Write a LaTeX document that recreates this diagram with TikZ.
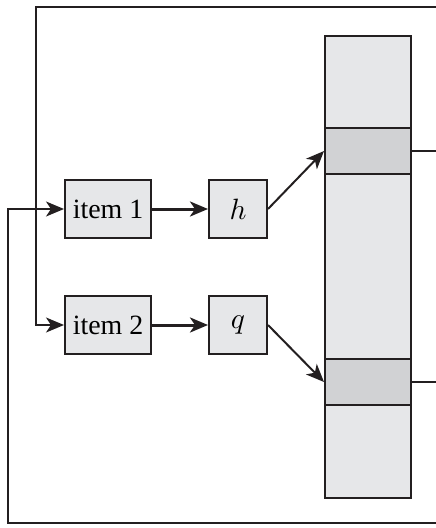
\documentclass[tikz,border=0pt]{standalone}
\usepackage{graphicx}
\usepackage{fontspec}
\setmainfont{Liberation Serif}
\usetikzlibrary{arrows.meta}
\definecolor{ink}{HTML}{231F20}
\definecolor{boxfill}{HTML}{E6E7E9}
\definecolor{slotfill}{HTML}{D1D2D4}
\newcommand{\bigmath}[1]{{\fontsize{10}{12}\selectfont\scalebox{2.95}{$#1$}}}
\tikzset{
  boxnode/.style={draw=ink, line width=2bp, fill=boxfill, inner sep=0pt, font=\fontsize{28}{32}\selectfont},
  slotnode/.style={draw=ink, line width=2bp, fill=slotfill, inner sep=0pt},
  frameline/.style={draw=ink, line width=2bp},
  tip/.style={-{Stealth[length=18bp,width=15bp,inset=5bp]}},
  thickarrow/.style={draw=ink, line width=3bp, tip},
  thinarrow/.style={draw=ink, line width=2bp, tip},
}
\begin{document}
\begin{tikzpicture}[x=1bp,y=-1bp]
\useasboundingbox (0,0) rectangle (436,528);
% table
\node[boxnode, minimum width=86bp, minimum height=462bp] (table) at (368,267) {};
\node[slotnode, minimum width=86bp, minimum height=46bp] (slot1) at (368,151) {};
\node[slotnode, minimum width=86bp, minimum height=46bp] (slot2) at (368,382) {};
% items
\node[boxnode, minimum width=86bp, minimum height=58bp] (item1) at (108,209) {item 1};
\node[boxnode, minimum width=86bp, minimum height=58bp] (item2) at (108,325) {item 2};
\node[boxnode, minimum width=58bp, minimum height=58bp] (h) at (238,209) {\bigmath{h}};
\node[boxnode, minimum width=58bp, minimum height=58bp] (q) at (238,325) {\bigmath{q}};
% coordinates
\coordinate (r1) at (436,151);
\coordinate (r2) at (436,382);
\coordinate (tr) at (436,7);
\coordinate (tl) at (36,7);
\coordinate (br) at (436,523);
\coordinate (bl) at (8,523);
% arrows
\draw[thickarrow] (item1) -- (h);
\draw[thickarrow] (item2) -- (q);
\draw[thinarrow] (h.east) -- (slot1.west);
\draw[thinarrow] (q.east) -- (slot2.west);
\draw[frameline] (slot1.east) -- (r1);
\draw[frameline] (slot2.east) -- (r2);
\draw[frameline, tip] (tr) -- (tl) |- (item2.west);
\draw[frameline, tip] (br) -- (bl) |- (item1.west);
\end{tikzpicture}
\end{document}
